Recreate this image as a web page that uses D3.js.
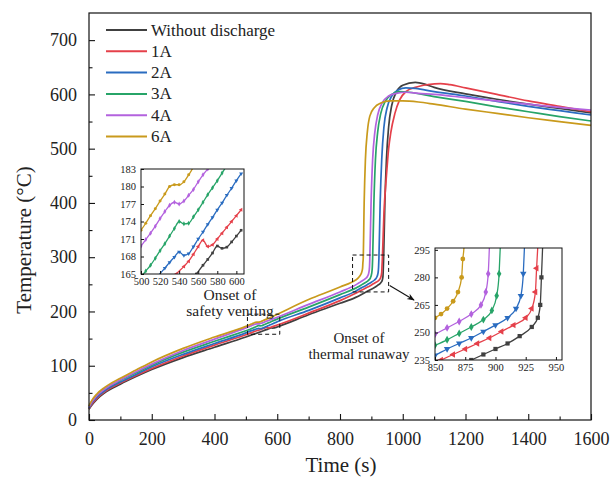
<!DOCTYPE html>
<html><head><meta charset="utf-8">
<script src="https://cdn.jsdelivr.net/npm/d3@7"></script>
<style>
body{margin:0;background:#fff}
svg text{font-family:"Liberation Serif","Times New Roman",Times,"DejaVu Serif",serif !important;}
</style>
</head><body>
<svg id="c" width="612" height="479"></svg>
<script>
// ---------- data ----------
const seriesNames = ["Without discharge","1A","2A","3A","4A","6A"];
const seriesColors = ["#404040","#e5404a","#2a6cc0","#27a468","#b362de","#c99a1c"];
const markerTypes = ["square","triangle","triangleDown","diamond","diamond","circle"];

const dataNoDischarge = [[0,20],[10,28],[25,38],[50,50],[100,66],[150,80],[200,93],[300,115],[400,134],[500,153],[558,165],[565,166.5],[570,167.5],[575,168.6],[580,169.8],[585,169.4],[590,169.6],[595,170.5],[600,171.5],[605,172.5],[700,194],[800,215],[850,226],[880,235],[890,238],[900,241],[910,244],[920,248],[930,253],[935,258],[937,265],[938,280],[939,297],[943,400],[948,480],[955,540],[965,580],[980,605],[1000,617],[1040,622],[1070,619],[1100,613],[1200,601],[1300,591],[1400,582],[1500,574],[1600,566]];
const data1A = [[0,21],[10,30],[25,40],[50,52],[100,68],[150,82],[200,95],[300,118],[400,138],[500,157],[537,165],[545,166.3],[550,167.2],[555,168.4],[560,169.7],[565,170.8],[570,169.7],[575,170],[580,171],[585,172],[590,173],[595,174],[600,175],[605,176],[700,197],[800,220],[855,235],[865,238],[875,241],[885,244],[895,247],[905,250.5],[915,254],[925,258],[930,263],[933,272],[934,285],[935,297],[940,380],[948,450],[955,500],[962,530],[975,565],[990,590],[1010,605],[1040,613],[1080,618],[1120,620],[1150,618],[1200,612],[1300,600],[1400,588],[1500,578],[1600,568]];
const data2A = [[0,22],[10,32],[25,42],[50,54],[100,70],[150,84],[200,98],[300,121],[400,141],[500,160.5],[518,164.7],[525,166],[530,167],[535,167.9],[540,168.8],[545,168.2],[550,168.5],[555,169.7],[560,171],[565,172.2],[570,173.5],[575,174.7],[580,176],[585,177.2],[590,178.5],[595,179.7],[600,181],[605,182.2],[700,202],[800,225],[850,237.5],[860,241],[870,244],[880,247],[890,250.5],[900,254],[910,258],[917,263],[921,270],[923,282],[924,297],[928,400],[933,480],[940,540],[950,575],[965,597],[985,608],[1010,612],[1040,611],[1100,605],[1200,597],[1300,587],[1400,578],[1500,570],[1600,562]];
const data3A = [[0,25],[10,35],[25,45],[50,57],[100,73],[150,87],[200,101],[300,125],[400,145],[500,164.5],[505,165.5],[510,166.5],[515,167.7],[520,169],[525,170.2],[530,171.5],[535,172.8],[540,174],[545,173.6],[550,173.7],[555,174.8],[560,176],[565,177.3],[570,178.6],[575,179.8],[580,181],[585,182.3],[590,183.6],[700,208],[800,231],[850,243],[860,246],[870,249.5],[880,253],[890,257],[897,262],[901,270],[903,282],[904,297],[908,400],[913,480],[920,530],[930,565],[945,588],[965,600],[990,605],[1020,604],[1100,596],[1200,587],[1300,577],[1400,568],[1500,559],[1600,551]];
const data4A = [[0,24],[10,34],[25,45],[50,57],[100,74],[150,89],[200,103],[300,128],[400,149],[500,169.8],[505,170.9],[510,172],[515,173.2],[520,174.5],[525,175.7],[530,176.8],[535,177.3],[540,177],[545,177.5],[550,178.5],[555,179.5],[560,180.8],[565,182],[570,183],[575,184],[700,213],[800,236],[850,249],[860,252.5],[870,256],[880,260],[888,265],[892,272],[894,282],[895,297],[899,400],[904,480],[911,530],[920,562],[935,585],[955,597],[980,602],[1010,604],[1050,602],[1100,600],[1200,594],[1300,588],[1400,582],[1500,576],[1600,571]];
const data6A = [[0,26],[10,37],[25,48],[50,60],[100,77],[150,92],[200,107],[300,132],[400,153],[500,172.5],[505,173.7],[510,175],[515,176.2],[520,177.5],[525,178.7],[530,180],[535,180.3],[540,180.3],[545,180.8],[550,182],[555,183.3],[560,184.5],[700,222],[800,245],[850,258],[855,260],[860,263],[865,267],[869,272],[872,280],[873,290],[874,297],[877,400],[881,480],[887,530],[895,560],[910,576],[930,584],[960,588],[1000,588],[1050,586],[1100,582],[1200,573],[1300,565],[1400,557],[1500,550],[1600,543]];
const allSeries = [dataNoDischarge,data1A,data2A,data3A,data4A,data6A];

const xTicks = [0,200,400,600,800,1000,1200,1400,1600];
const yTicks = [0,100,200,300,400,500,600,700];
const inset1XTicks = [500,520,540,560,580,600];
const inset1YTicks = [165,168,171,174,177,180,183];
const inset2XTicks = [850,875,900,925,950];
const inset2YTicks = [235,250,265,280,295];

// ---------- drawing ----------
const svg = d3.select("#c");
const x = d3.scaleLinear([0,1600],[89,591]);
const y = d3.scaleLinear([0,750],[420,13]);

const line = (xs,ys)=>d3.line().x(d=>xs(d[0])).y(d=>ys(d[1])).curve(d3.curveMonotoneX);

// main curves
const gMain = svg.append("g");
allSeries.forEach((s,i)=>{
  gMain.append("path").attr("d",line(x,y)(s)).attr("fill","none")
    .attr("stroke",seriesColors[i]).attr("stroke-width",1.7);
});

// axes
const gx = svg.append("g").attr("transform","translate(0,420)")
  .call(d3.axisBottom(x).tickValues(xTicks).tickFormat(d3.format("d")).tickSizeInner(-6).tickSizeOuter(0).tickPadding(12));
svg.append("g").attr("transform","translate(0,420)")
  .call(d3.axisBottom(x).tickValues(d3.range(100,1600,200)).tickSizeInner(-3.5).tickSizeOuter(0).tickFormat(""));
const gy = svg.append("g").attr("transform","translate(89,0)")
  .call(d3.axisLeft(y).tickValues(yTicks).tickSizeInner(-6).tickSizeOuter(0).tickPadding(12));
svg.append("g").attr("transform","translate(89,0)")
  .call(d3.axisLeft(y).tickValues(d3.range(50,750,100)).tickSizeInner(-3.5).tickSizeOuter(0).tickFormat(""));
svg.selectAll(".domain").remove();
svg.selectAll(".tick line").attr("stroke","#111").attr("stroke-width",1.1);
gx.selectAll("text").attr("font-size",18).attr("fill","#222");
gy.selectAll("text").attr("font-size",18).attr("fill","#222");

// frame
svg.append("rect").attr("x",89).attr("y",13).attr("width",591-89).attr("height",420-13)
  .attr("fill","none").attr("stroke","#111").attr("stroke-width",1.2);

// axis titles
svg.append("text").attr("x",341).attr("y",472).attr("text-anchor","middle")
  .attr("font-size",21).attr("fill","#222").text("Time (s)");
svg.append("text").attr("transform","translate(31,240) rotate(-90)").attr("text-anchor","middle")
  .attr("font-size",21).attr("fill","#222").text("Temperature (°C)");

// legend
const lg = svg.append("g");
seriesNames.forEach((n,i)=>{
  const yy = 30 + i*21.3;
  lg.append("line").attr("x1",106).attr("x2",147).attr("y1",yy).attr("y2",yy)
    .attr("stroke",seriesColors[i]).attr("stroke-width",2);
  lg.append("text").attr("x",151).attr("y",yy+5.5).attr("font-size",17).attr("fill","#222").text(n);
});

// dashed boxes
svg.append("rect").attr("x",x(505)).attr("y",y(195)).attr("width",x(608)-x(505)).attr("height",y(158)-y(195))
  .attr("fill","none").attr("stroke","#111").attr("stroke-width",1).attr("stroke-dasharray","4,3");
svg.append("rect").attr("x",x(840)).attr("y",y(304)).attr("width",x(955)-x(840)).attr("height",y(236)-y(304))
  .attr("fill","none").attr("stroke","#111").attr("stroke-width",1).attr("stroke-dasharray","4,3");

// arrow
svg.append("defs").append("marker").attr("id","ah").attr("viewBox","0 0 10 10").attr("refX",9).attr("refY",5)
  .attr("markerWidth",7).attr("markerHeight",7).attr("orient","auto")
  .append("path").attr("d","M0,1 L10,5 L0,9 L3,5 Z").attr("fill","#111");
svg.append("line").attr("x1",x(955)+1).attr("y1",y(248)).attr("x2",414).attr("y2",300)
  .attr("stroke","#111").attr("stroke-width",1.1).attr("marker-end","url(#ah)");

// annotations
const ann = (lines,cx,y0,fs)=>{
  lines.forEach((t,i)=>svg.append("text").attr("x",cx).attr("y",y0+i*15.5).attr("text-anchor","middle")
    .attr("font-size",fs).attr("fill","#222").text(t));
};
ann(["Onset of","safety venting"],230,300,15.5);
ann(["Onset of","thermal runaway"],359,343,15);

// insets
function inset(id,xd,yd,xr,yr,xt,yt,markerScale){
  const xs = d3.scaleLinear(xd,xr), ys = d3.scaleLinear(yd,yr);
  const g = svg.append("g");
  g.append("rect").attr("x",xr[0]).attr("y",yr[1]).attr("width",xr[1]-xr[0]).attr("height",yr[0]-yr[1]).attr("fill","#fff");
  g.append("clipPath").attr("id",id).append("rect").attr("x",xr[0]).attr("y",yr[1]).attr("width",xr[1]-xr[0]).attr("height",yr[0]-yr[1]);
  const gc = g.append("g").attr("clip-path",`url(#${id})`);
  const symMap = {square:d3.symbolSquare,triangle:d3.symbolTriangle,triangleDown:d3.symbolTriangle,diamond:d3.symbolDiamond,circle:d3.symbolCircle};
  allSeries.forEach((s,i)=>{
    const sub = s.filter(d=>d[0]>=xd[0]-60 && d[0]<=xd[1]+60);
    gc.append("path").attr("d",line(xs,ys)(sub)).attr("fill","none").attr("stroke",seriesColors[i]).attr("stroke-width",1.3);
    const pts = sub.filter(d=>d[0]>=xd[0]&&d[0]<=xd[1]&&d[1]>=yd[0]&&d[1]<=yd[1]);
    const sym = d3.symbol().type(symMap[markerTypes[i]]).size(markerScale);
    gc.selectAll(null).data(pts).enter().append("path")
      .attr("d",sym).attr("fill",seriesColors[i])
      .attr("transform",d=>`translate(${xs(d[0])},${ys(d[1])})`+(markerTypes[i]==="triangleDown"?" rotate(180)":(markerTypes[i]==="triangle"?" rotate(-90)":"")));
  });
  const ax = g.append("g").attr("transform",`translate(0,${yr[0]})`)
    .call(d3.axisBottom(xs).tickValues(xt).tickSizeInner(-3).tickSizeOuter(0).tickPadding(4));
  const ay = g.append("g").attr("transform",`translate(${xr[0]},0)`)
    .call(d3.axisLeft(ys).tickValues(yt).tickSizeInner(-3).tickSizeOuter(0).tickPadding(5));
  g.selectAll(".domain").remove();
  g.selectAll(".tick line").attr("stroke","#111");
  g.selectAll(".tick text").attr("font-size",10.5).attr("fill","#222");
  g.append("rect").attr("x",xr[0]).attr("y",yr[1]).attr("width",xr[1]-xr[0]).attr("height",yr[0]-yr[1])
    .attr("fill","none").attr("stroke","#111").attr("stroke-width",1);
}
inset("clip1",[500,608],[165,183],[141,244],[274,169],inset1XTicks,inset1YTicks,7);
inset("clip2",[850,955],[235,296],[435,562],[360,248],inset2XTicks,inset2YTicks,18);
</script>
</body></html>
